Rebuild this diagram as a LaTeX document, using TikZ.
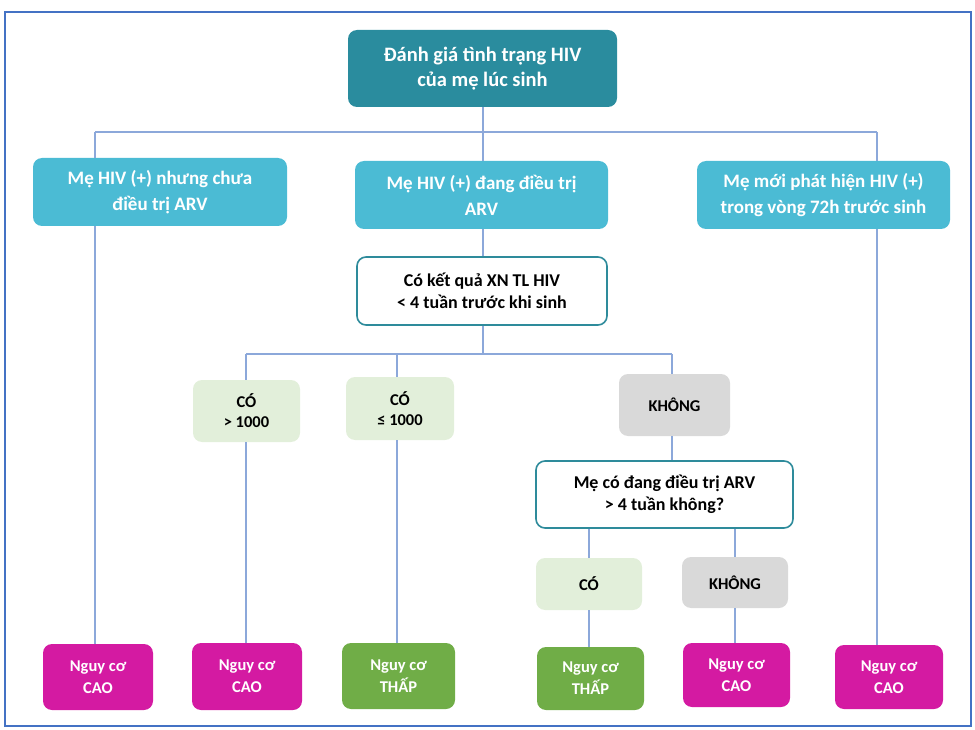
\documentclass[tikz,border=0pt]{standalone}
\usepackage{fontspec}
\setmainfont{Carlito}
\usetikzlibrary{calc}
\definecolor{topteal}{RGB}{42,140,158}
\definecolor{lvlblue}{RGB}{75,187,212}
\definecolor{bordteal}{RGB}{46,139,155}
\definecolor{lgreen}{RGB}{226,239,218}
\definecolor{lgray}{RGB}{217,217,217}
\definecolor{magent}{RGB}{212,26,162}
\definecolor{dgreen}{RGB}{112,173,71}
\definecolor{linkblue}{RGB}{140,168,218}
\definecolor{framecol}{RGB}{68,114,196}
\tikzset{
  base/.style={rounded corners=9pt, align=center, inner sep=2pt, font=\bfseries},
  topbox/.style={base, fill=topteal, text=white, font=\bfseries\fontsize{20.5}{25}\selectfont},
  lvlbox/.style={base, fill=lvlblue, text=white, font=\bfseries\fontsize{19}{26}\selectfont},
  qbox/.style={base, fill=white, draw=bordteal, line width=1.6pt, text=black, font=\bfseries\fontsize{18}{22}\selectfont},
  yesbox/.style={base, fill=lgreen, text=black, font=\bfseries\fontsize{16.5}{20}\selectfont},
  nobox/.style={base, fill=lgray, text=black, font=\bfseries\fontsize{16.5}{20}\selectfont},
  highbox/.style={base, fill=magent, text=white, font=\bfseries\fontsize{16.5}{22}\selectfont},
  lowbox/.style={base, fill=dgreen, text=white, font=\bfseries\fontsize{16.5}{22}\selectfont},
  link/.style={draw=linkblue, line width=1.1pt},
}
\begin{document}
\begin{tikzpicture}[x=1pt,y=-1pt]
\useasboundingbox (0,0) rectangle (975,730);
\draw[framecol, line width=2.4pt] (5,12) rectangle (971,726);

\node[topbox, minimum width=269pt, minimum height=77pt] (top) at (482.5,68.5) {Đánh giá tình trạng HIV\\của mẹ lúc sinh};
\node[lvlbox, minimum width=254pt, minimum height=68pt] (L) at (160,192) {Mẹ HIV (+) nhưng chưa\\điều trị ARV};
\node[lvlbox, minimum width=253pt, minimum height=68pt] (M) at (481.5,195) {Mẹ HIV (+) đang điều trị\\ARV};
\node[lvlbox, minimum width=253pt, minimum height=68pt] (R) at (823.5,195) {Mẹ mới phát hiện HIV (+)\\trong vòng 72h trước sinh};
\node[qbox, minimum width=250pt, minimum height=68pt] (xn) at (482,291) {Có kết quả XN TL HIV\\< 4 tuần trước khi sinh};
\node[yesbox, minimum width=107pt, minimum height=62pt] (c1) at (246.5,411) {CÓ\\> 1000};
\node[yesbox, minimum width=108pt, minimum height=63pt] (c2) at (400,408.5) {CÓ\\≤ 1000};
\node[nobox, minimum width=111pt, minimum height=62pt] (k1) at (674.5,405) {KHÔNG};
\node[qbox, minimum width=257pt, minimum height=67pt] (arv) at (664.5,494.5) {Mẹ có đang điều trị ARV\\> 4 tuần không?};
\node[yesbox, minimum width=106pt, minimum height=52pt] (c3) at (589,584) {CÓ};
\node[nobox, minimum width=106pt, minimum height=51pt] (k2) at (735,582.5) {KHÔNG};
\node[highbox, minimum width=110pt, minimum height=66pt] (b1) at (98,677) {Nguy cơ\\CAO};
\node[highbox, minimum width=110pt, minimum height=67pt] (b2) at (247,676.5) {Nguy cơ\\CAO};
\node[lowbox, minimum width=113pt, minimum height=66pt] (b3) at (398.5,676) {Nguy cơ\\THẤP};
\node[lowbox, minimum width=107pt, minimum height=63pt] (b4) at (590.5,678.5) {Nguy cơ\\THẤP};
\node[highbox, minimum width=107pt, minimum height=64pt] (b5) at (736.5,675) {Nguy cơ\\CAO};
\node[highbox, minimum width=108pt, minimum height=64pt] (b6) at (889,677) {Nguy cơ\\CAO};

% bus coordinates
\coordinate (busL) at (95,132);
\coordinate (busM) at (483,132);
\coordinate (busR) at (877,132);
\coordinate (bus2L) at (246,354);
\coordinate (bus2M) at (483,354);
\coordinate (bus2C) at (397,354);
\coordinate (bus2R) at (672,354);
\coordinate (colA) at (589,540);
\coordinate (colB) at (735,540);

% top level
\draw[link] (busM |- top.south) -- (busM);
\draw[link] (busL) -- (busR);
\draw[link] (busL) -- (busL |- L.north);
\draw[link] (busM) -- (busM |- M.north);
\draw[link] (busR) -- (busR |- R.north);
\draw[link] (busL |- L.south) -- (busL |- b1.north);
\draw[link] (busR |- R.south) -- (busR |- b6.north);
\draw[link] (busM |- M.south) -- (busM |- xn.north);

% second level
\draw[link] (bus2M |- xn.south) -- (bus2M);
\draw[link] (bus2L) -- (bus2R);
\draw[link] (bus2L) -- (bus2L |- c1.north);
\draw[link] (bus2C) -- (bus2C |- c2.north);
\draw[link] (bus2R) -- (bus2R |- k1.north);
\draw[link] (bus2L |- c1.south) -- (bus2L |- b2.north);
\draw[link] (bus2C |- c2.south) -- (bus2C |- b3.north);
\draw[link] (bus2R |- k1.south) -- (bus2R |- arv.north);

% third level
\draw[link] (colA |- arv.south) -- (colA |- c3.north);
\draw[link] (colB |- arv.south) -- (colB |- k2.north);
\draw[link] (colA |- c3.south) -- (colA |- b4.north);
\draw[link] (colB |- k2.south) -- (colB |- b5.north);
\end{tikzpicture}
\end{document}
